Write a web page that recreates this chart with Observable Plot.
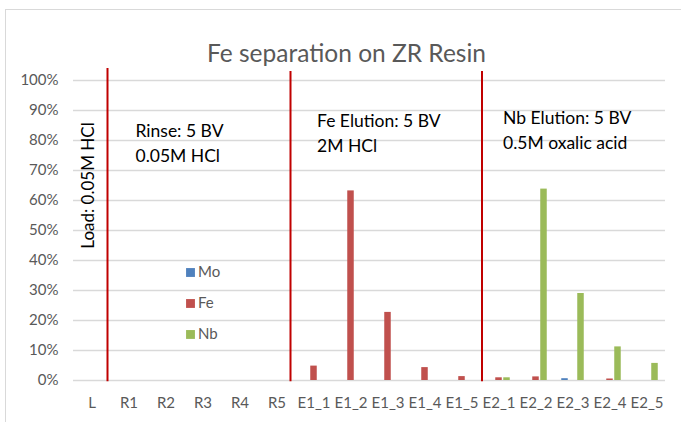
<!DOCTYPE html>
<html>
<head>
<meta charset="utf-8">
<script src="https://cdn.jsdelivr.net/npm/d3@7"></script>
<script src="https://cdn.jsdelivr.net/npm/@observablehq/plot@0.6"></script>
<style>
  html, body { margin: 0; padding: 0; background: #fff; }
  #wrap { position: relative; width: 681px; height: 422px; overflow: hidden; }
  #border { position: absolute; left: 5px; top: 9px; width: 720px; height: 460px; border: 1.5px solid #d9d9d9; box-sizing: border-box; }
  #chart { position: absolute; left: 0; top: 0; }
</style>
</head>
<body>
<div id="wrap"><div id="border"></div><div id="chart"></div></div>
<script>
const categories = ["L","R1","R2","R3","R4","R5","E1_1","E1_2","E1_3","E1_4","E1_5","E2_1","E2_2","E2_3","E2_4","E2_5"];
const seriesNames = ["Mo","Fe","Nb"];
const moValues = [0,0,0,0,0,0, 0,0,0,0,0, 0,0,0.006,0,0];
const feValues = [0,0,0,0,0,0, 0.048,0.632,0.227,0.043,0.013, 0.009,0.012,0,0.005,0];
const nbValues = [0,0,0,0,0,0, 0,0,0,0,0, 0.009,0.638,0.290,0.112,0.057];
const yTicks = [0,0.1,0.2,0.3,0.4,0.5,0.6,0.7,0.8,0.9,1.0];
const chartTitle = "Fe separation on ZR Resin";
const stageCats = ["R1", "E1_1", "E2_1"];
const stageLines = [["Rinse: 5 BV", "0.05M HCl"], ["Fe Elution: 5 BV", "2M HCl"], ["Nb Elution: 5 BV", "0.5M oxalic acid"]];
const loadNote = "Load: 0.05M HCl";

const colors = {Mo: "#4f81bd", Fe: "#c0504d", Nb: "#9bbb59"};
const table = (vals) => categories.map((c, i) => ({cat: c, v: vals[i]}));
const moData = table(moValues), feData = table(feValues), nbData = table(nbValues);

const barOpts = (off) => ({x: "cat", y: "v", insetLeft: 15.25, insetRight: 15.25, dx: off});
const grey = "#595959";
const red = "#c00000";
const noteY = [0.83, 0.863, 0.873];
const noteDx = [6.5, 3, 4];
const sepDx = [-21.5, -23.5, -17];
const sepTop = [1.04, 1.03, 1.03];

const chart = Plot.plot({
  width: 681, height: 422,
  marginLeft: 73, marginRight: 16, marginTop: 80, marginBottom: 42,
  style: {fontFamily: "Lato, 'Open Sans', sans-serif", fontSize: "15px", color: grey, background: "transparent"},
  x: {domain: categories, padding: 0, label: null},
  y: {domain: [0, 1], label: null},
  marks: [
    Plot.gridY(yTicks, {stroke: "#d9d9d9", strokeOpacity: 1, strokeWidth: 1.5}),
    Plot.axisY(yTicks, {tickSize: 0, tickPadding: 15, tickFormat: d3.format(".0%"), fill: grey, fontSize: 15, label: null}),
    Plot.axisX({tickSize: 0, tickPadding: 17, fill: grey, fontSize: 15, label: null}),
    Plot.barY(moData, {...barOpts(-8), fill: colors.Mo}),
    Plot.barY(feData, {...barOpts(0), fill: colors.Fe}),
    Plot.barY(nbData, {...barOpts(8), fill: colors.Nb}),
    // stage separators
    ...stageCats.map((c, i) => Plot.ruleX([c], {x: d => d, y1: -0.004, y2: sepTop[i], dx: sepDx[i], stroke: red, strokeWidth: 2})),
    // stage notes
    ...stageCats.map((c, i) => Plot.text(stageLines[i], {
      x: () => c, y: (d, j) => noteY[i] - j * 0.0833, text: d => d,
      textAnchor: "start", dx: noteDx[i], fill: "#000", fontSize: 17.5
    })),
    Plot.text([loadNote], {x: () => "L", y: () => 0.65, text: d => d, rotate: -90, dx: -3, fill: "#000", fontSize: 17}),
    // legend
    Plot.dot(seriesNames, {x: () => "R2", y: (d, i) => 0.36 - i * 0.1033, symbol: "square", r: 5, fill: d => colors[d], dx: 24.5}),
    Plot.text(seriesNames, {x: () => "R2", y: (d, i) => 0.36 - i * 0.1033, text: d => d, textAnchor: "start", dx: 32, fill: grey, fontSize: 15}),
    // title
    Plot.text([chartTitle], {frameAnchor: "top", text: d => d, dy: -36, dx: -23, fontSize: 24.5, fill: grey})
  ]
});
document.getElementById("chart").appendChild(chart);
</script>
</body>
</html>
